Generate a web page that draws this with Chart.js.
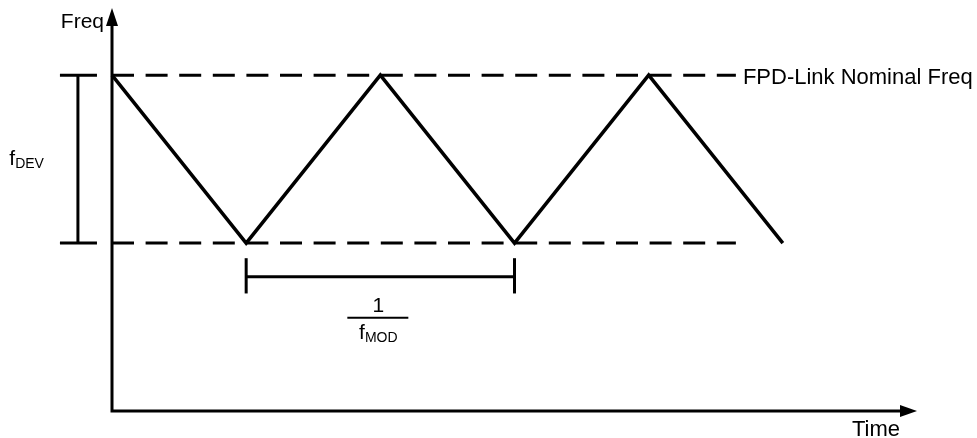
<!DOCTYPE html>
<html lang="es">
<head>
<meta charset="utf-8">
<title>Modulación de frecuencia</title>
<script src="https://cdn.jsdelivr.net/npm/chart.js@4.4.1/dist/chart.umd.min.js"></script>
<style>
  html, body { margin: 0; padding: 0; background: #fff; }
  canvas { display: block; }
</style>
</head>
<body>
<canvas id="chartFrecuencia" width="977" height="438"></canvas>
<script>
// Tiempo en periodos de modulación (1 = 1/fMOD)
const tiempos = [0, 0.5, 1, 1.5, 2, 2.5];
// Frecuencia normalizada (1 = nominal)
const frecuencias = [1, 0.5, 1, 0.5, 1, 0.5];
const freqNominal = 1;
const freqMinima = 0.5;
const finLineas = 2.325;

// Cotas fDEV y 1/fMOD
const cotaDev = { x: -0.127, topeDesde: -0.194, topeHasta: -0.056 };
const cotaMod = { desde: 0.5, hasta: 1.5, y: 0.4, yMin: 0.35, yMax: 0.455 };

const textos = { ejeX: 'Time', ejeY: 'Freq', nominal: 'FPD-Link Nominal Freq' };

const negro = '#000';
const fuente = '"Liberation Sans", Arial, Helvetica, sans-serif';

function segmento(puntos, extra) {
    return Object.assign({
        data: puntos,
        showLine: true,
        borderColor: negro,
        borderWidth: 3,
        pointRadius: 0,
        fill: false,
        tension: 0,
        clip: false
    }, extra || {});
}

// Texto con subíndice (f + DEV, f + MOD)
function textoConSubindice(ctx, base, sub, x, yBase, alin) {
    ctx.font = '21px ' + fuente;
    const wBase = ctx.measureText(base).width;
    ctx.font = '14px ' + fuente;
    const wSub = ctx.measureText(sub).width;
    let inicio = x;
    if (alin === 'right') inicio = x - wBase - wSub;
    if (alin === 'center') inicio = x - (wBase + wSub) / 2;
    ctx.textAlign = 'left';
    ctx.font = '21px ' + fuente;
    ctx.fillText(base, inicio, yBase);
    ctx.font = '14px ' + fuente;
    ctx.fillText(sub, inicio + wBase, yBase + 3);
}

// Ejes con flecha y rótulos
const ejesYTextos = {
    id: 'ejesYTextos',
    afterDatasetsDraw(chart) {
        const ctx = chart.ctx;
        const sx = chart.scales.x;
        const sy = chart.scales.y;
        const x0 = sx.getPixelForValue(0);
        const y0 = sy.getPixelForValue(0);
        const xFin = sx.getPixelForValue(sx.max);
        const yFin = sy.getPixelForValue(sy.max);

        ctx.save();
        ctx.strokeStyle = negro;
        ctx.fillStyle = negro;
        ctx.lineWidth = 3;
        ctx.lineJoin = 'miter';

        ctx.beginPath();
        ctx.moveTo(x0, yFin + 16);
        ctx.lineTo(x0, y0);
        ctx.lineTo(xFin - 15, y0);
        ctx.stroke();

        ctx.beginPath();
        ctx.moveTo(x0, yFin);
        ctx.lineTo(x0 - 6, yFin + 18);
        ctx.lineTo(x0 + 6, yFin + 18);
        ctx.closePath();
        ctx.fill();

        ctx.beginPath();
        ctx.moveTo(xFin, y0);
        ctx.lineTo(xFin - 17, y0 - 6);
        ctx.lineTo(xFin - 17, y0 + 6);
        ctx.closePath();
        ctx.fill();

        ctx.textBaseline = 'alphabetic';

        ctx.font = '21px ' + fuente;
        ctx.textAlign = 'right';
        ctx.fillText(textos.ejeY, x0 - 8, yFin + 20);

        ctx.font = '22px ' + fuente;
        ctx.textAlign = 'left';
        ctx.fillText(textos.ejeX, xFin - 65, y0 + 25);

        ctx.fillText(textos.nominal, sx.getPixelForValue(finLineas) + 7, sy.getPixelForValue(freqNominal) + 9);

        // fDEV
        const yMedio = (sy.getPixelForValue(freqNominal) + sy.getPixelForValue(freqMinima)) / 2;
        textoConSubindice(ctx, 'f', 'DEV', sx.getPixelForValue(cotaDev.x) - 34, yMedio + 6, 'right');

        // 1 / fMOD
        const xc = sx.getPixelForValue((cotaMod.desde + cotaMod.hasta) / 2) - 2;
        const yc = sy.getPixelForValue(cotaMod.y);
        ctx.font = '21px ' + fuente;
        ctx.textAlign = 'center';
        ctx.fillText('1', xc, yc + 35);
        ctx.lineWidth = 2;
        ctx.beginPath();
        ctx.moveTo(xc - 31, yc + 41);
        ctx.lineTo(xc + 30, yc + 41);
        ctx.stroke();
        textoConSubindice(ctx, 'f', 'MOD', xc, yc + 62, 'center');

        ctx.restore();
    }
};

document.addEventListener('DOMContentLoaded', function () {
    const ctxFrecuencia = document.getElementById('chartFrecuencia');
    const trazo = tiempos.map((t, i) => ({ x: t, y: frecuencias[i] }));

    new Chart(ctxFrecuencia, {
        type: 'scatter',
        data: {
            datasets: [
                segmento(trazo, { borderWidth: 3.5 }),
                segmento([{ x: 0, y: freqNominal }, { x: finLineas, y: freqNominal }], { borderDash: [22, 11.6] }),
                segmento([{ x: 0, y: freqMinima }, { x: finLineas, y: freqMinima }], { borderDash: [22, 11.6] }),
                segmento([{ x: cotaDev.x, y: freqMinima }, { x: cotaDev.x, y: freqNominal }]),
                segmento([{ x: cotaDev.topeDesde, y: freqNominal }, { x: cotaDev.topeHasta, y: freqNominal }]),
                segmento([{ x: cotaDev.topeDesde, y: freqMinima }, { x: cotaDev.topeHasta, y: freqMinima }]),
                segmento([{ x: cotaMod.desde, y: cotaMod.y }, { x: cotaMod.hasta, y: cotaMod.y }]),
                segmento([{ x: cotaMod.desde, y: cotaMod.yMin }, { x: cotaMod.desde, y: cotaMod.yMax }]),
                segmento([{ x: cotaMod.hasta, y: cotaMod.yMin }, { x: cotaMod.hasta, y: cotaMod.yMax }])
            ]
        },
        options: {
            responsive: false,
            animation: false,
            events: [],
            layout: {
                padding: { left: 112, right: 60, top: 8, bottom: 27 }
            },
            plugins: {
                legend: { display: false },
                tooltip: { enabled: false }
            },
            scales: {
                x: { type: 'linear', min: 0, max: 3, display: false },
                y: { type: 'linear', min: 0, max: 1.2, display: false }
            }
        },
        plugins: [ejesYTextos]
    });
});
</script>
</body>
</html>
